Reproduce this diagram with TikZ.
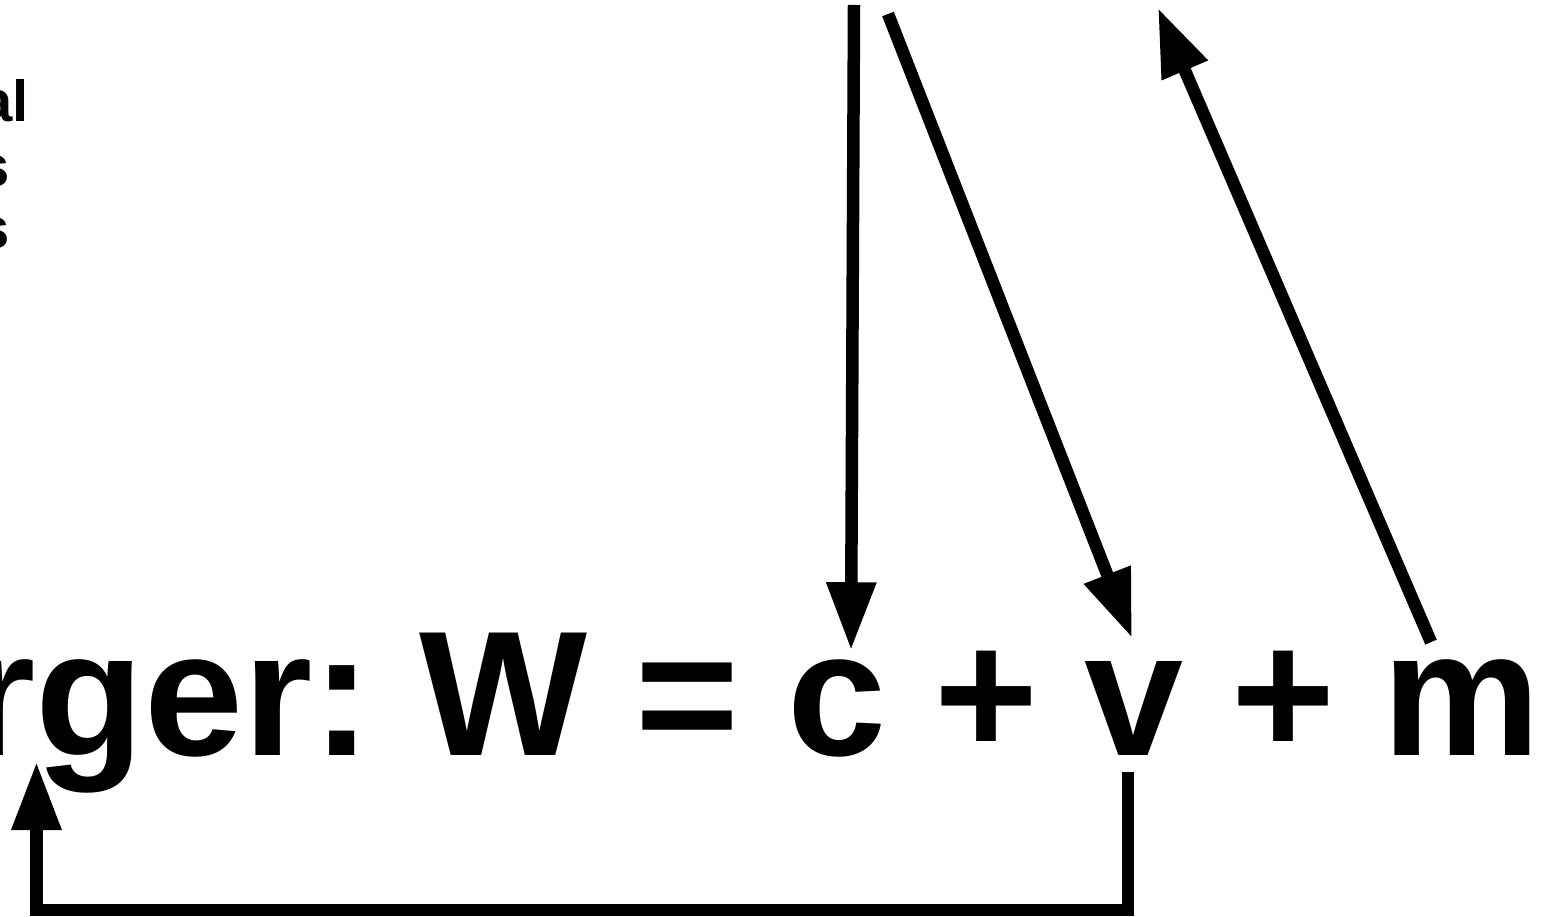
\documentclass[tikz,border=0pt]{standalone}
\usepackage{fontspec}
\setmainfont{Liberation Sans}
\usetikzlibrary{arrows.meta,positioning}

\begin{document}
\begin{tikzpicture}[
  x=1pt, y=-1pt,
  term/.style={inner sep=0pt, outer sep=0pt, anchor=base,
               font=\fontsize{178}{200}\selectfont\bfseries},
  note/.style={inner sep=0pt, anchor=base east,
               font=\fontsize{58}{64}\selectfont\bfseries},
  arr/.style={-{Triangle[length=68pt,width=47pt]}, line width=12.5pt}
]
  \useasboundingbox (0,0) rectangle (1548,917);
  \clip (0,0) rectangle (1548,917);
  % cut-off lines at the top left
  \node[note] (n1) at (29,122) {al};
  \node[note] (n2) at (10,187) {s};
  \node[note] (n3) at (10,249) {s};
  % the equation
  \node[term, anchor=base east] (rger) at (372,755) {rger:};
  \node[term] (w)  at (503,755)  {W};
  \node[term] (eq) at (687,755)  {=};
  \node[term] (c)  at (837,755)  {c};
  \node[term] (p1) at (986,755)  {+};
  \node[term] (v)  at (1134,755) {v};
  \node[term] (p2) at (1283,755) {+};
  \node[term] (m)  at (1462,755) {m};
  % free ends at the top edge
  \coordinate (t1) at (854,5);
  \coordinate (t2) at (888,14);
  \coordinate (t3) at (1158,8);
  \draw[arr] (t1) -- ([xshift=14pt,yshift=9pt]c.north);
  \draw[arr] (t2) -- ([xshift=-2pt,yshift=23pt]v.north);
  \draw[arr] ([xshift=-31pt,yshift=17pt]m.north) -- (t3);
  \draw[arr] ([xshift=-6pt,yshift=-17pt]v.south) -- ++(0,138)
    -| ([xshift=70pt,yshift=-7pt]rger.base west);
\end{tikzpicture}
\end{document}
